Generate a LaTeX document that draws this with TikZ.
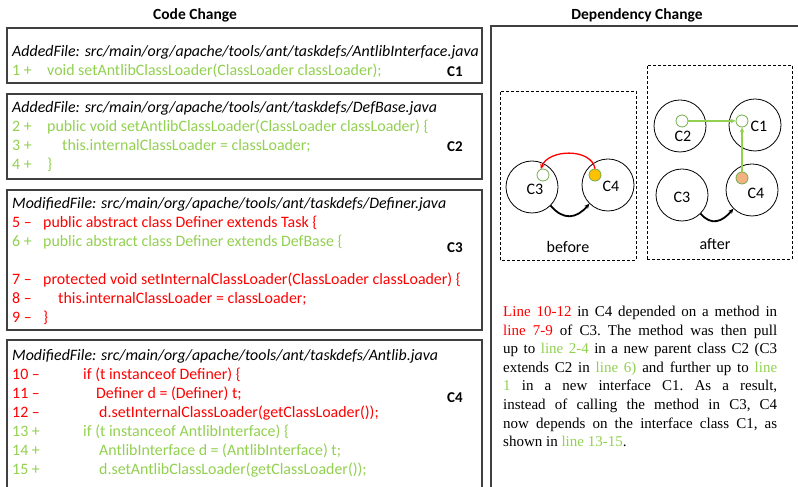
\documentclass[tikz,border=0pt]{standalone}
\usepackage{fontspec}
\setmainfont{Carlito}
\newfontfamily\paperfont{Liberation Serif}
\usetikzlibrary{arrows.meta, positioning}
\definecolor{addgreen}{HTML}{92D050}
\definecolor{ringgreen}{HTML}{70AD47}
\definecolor{delred}{HTML}{FF0000}
\definecolor{usegold}{HTML}{FFC000}
\definecolor{usesalmon}{HTML}{F4B183}
\definecolor{framegray}{HTML}{404040}

\begin{document}
\begin{tikzpicture}[
        x=1pt, y=1pt, >={Stealth[length=5pt,width=4.5pt]},
        heading/.style={font=\bfseries\fontsize{15.5}{18}\selectfont},
        filebox/.style={draw=framegray, line width=1.2pt},
        filename/.style={anchor=base west, inner sep=0pt, font=\itshape\fontsize{15.9}{19}\selectfont},
        codeline/.style={anchor=base west, inner sep=0pt, font=\fontsize{15.9}{19}\selectfont},
        addline/.style={codeline, text=addgreen},
        delline/.style={codeline, text=delred},
        boxtag/.style={font=\bfseries\fontsize{15}{18}\selectfont},
        panel/.style={draw, densely dashed, line width=0.6pt},
        cls/.style={circle, draw, line width=0.8pt, minimum size=52pt, inner sep=0pt},
        usedot/.style={circle, draw=ringgreen, line width=0.8pt, minimum size=12pt, inner sep=0pt},
        clsname/.style={font=\fontsize{16}{18}\selectfont, inner sep=0pt},
        calls/.style={->, line width=1.8pt},
        ]
        \useasboundingbox (0,0) rectangle (798,487);
        \clip (0,0) rectangle (798,487);

        % column titles
        \node[heading] (codehead) at (195,472) {Code Change};
        \node[heading] (dephead)  at (637,472) {Dependency Change};

        % file boxes, left column
        \draw[filebox] (7,404) rectangle (482,459);
        \draw[filebox] (7,308) rectangle (482,393);
        \draw[filebox] (7,157) rectangle (482,297);
        \draw[filebox] (7,-5) rectangle (482,147);
        % right column frame
        \draw[filebox] (491,-5) rectangle (805,461);

        % C1
        \node[filename] (f1) at (12,430) {AddedFile: src/main/org/apache/tools/ant/taskdefs/AntlibInterface.java};
        \node[addline] (l1) at (12,411) {\makebox[35pt][l]{1 +}void setAntlibClassLoader(ClassLoader classLoader);};
        \node[boxtag] (t1) at (455,415) {C1};

        % C2
        \node[filename] (f2) at (12,374) {AddedFile: src/main/org/apache/tools/ant/taskdefs/DefBase.java};
        \node[addline] (l2) at (12,355) {\makebox[35pt][l]{2 +}public void setAntlibClassLoader(ClassLoader classLoader) \{};
        \node[addline] (l3) at (12,336) {\makebox[50pt][l]{3 +}this.internalClassLoader = classLoader;};
        \node[addline] (l4) at (12,317) {\makebox[35pt][l]{4 +}\}};
        \node[boxtag] (t2) at (455,340) {C2};

        % C3
        \node[filename] (f3) at (12,278) {ModifiedFile: src/main/org/apache/tools/ant/taskdefs/Definer.java};
        \node[delline] (l5) at (12,259) {\makebox[31pt][l]{5 \textendash}public abstract class Definer extends Task \{};
        \node[addline] (l6) at (12,240) {\makebox[31pt][l]{6 +}public abstract class Definer extends DefBase \{};
        \node[delline] (l7) at (12,202) {\makebox[31pt][l]{7 \textendash}protected void setInternalClassLoader(ClassLoader classLoader) \{};
        \node[delline] (l8) at (12,183) {\makebox[46pt][l]{8 \textendash}this.internalClassLoader = classLoader;};
        \node[delline] (l9) at (12,164) {\makebox[31pt][l]{9 \textendash}\}};
        \node[boxtag] (t3) at (455,239) {C3};

        % C4
        \node[filename] (f4) at (12,126) {ModifiedFile: src/main/org/apache/tools/ant/taskdefs/Antlib.java};
        \node[delline] (l10) at (12,107) {\makebox[71pt][l]{10 \textendash}if (t instanceof Definer) \{};
        \node[delline] (l11) at (12,88) {\makebox[84pt][l]{11 \textendash}Definer d = (Definer) t;};
        \node[delline] (l12) at (12,69) {\makebox[87pt][l]{12 \textendash}d.setInternalClassLoader(getClassLoader());};
        \node[addline] (l13) at (12,50) {\makebox[71pt][l]{13 +}if (t instanceof AntlibInterface) \{};
        \node[addline] (l14) at (12,31) {\makebox[87pt][l]{14 +}AntlibInterface d = (AntlibInterface) t;};
        \node[addline] (l15) at (12,12) {\makebox[87pt][l]{15 +}d.setAntlibClassLoader(getClassLoader());};
        \node[boxtag] (t4) at (455,89) {C4};

        % before
        \draw[panel] (500,227) rectangle (636,396);
        \node[cls] (b3) at (532,300) {};
        \node[cls] (b4) at (608,302) {};
        \node[usedot] (b3in) at (543,312) {};
        \node[usedot, fill=usegold] (b4out) at (595,312) {};
        \node[clsname] (b3name) at (535,298) {C3};
        \node[clsname] (b4name) at (611,301) {C4};
        \node[clsname] (beforename) at (568,240) {before};
        \draw[->, delred, line width=1.3pt] (b4out.north) to[out=100, in=70] (b3in.110);
        \draw[calls] (b3.-45) to[out=-50, in=-130, looseness=1.3] (b4.-135);

        % after
        \draw[panel] (647,228) rectangle (792,422);
        \node[cls] (a2) at (680,361) {};
        \node[cls] (a1) at (755,362) {};
        \node[cls] (a3) at (682,292) {};
        \node[cls] (a4) at (752,297) {};
        \node[usedot] (a2in) at (682,366) {};
        \node[usedot] (a1in) at (742,366) {};
        \node[usedot, fill=usesalmon] (a4out) at (742,309) {};
        \node[clsname] (a2name) at (683,351) {C2};
        \node[clsname] (a1name) at (759,361) {C1};
        \node[clsname] (a3name) at (682,290) {C3};
        \node[clsname] (a4name) at (756,294) {C4};
        \node[clsname] (aftername) at (715,243) {after};
        \draw[->, addgreen, line width=1.3pt] (a2in.east) -- (a1in.west);
        \draw[->, addgreen, line width=1.3pt] (a4out.north) -- (a1in.south);
        \draw[calls] (a3.-45) to[out=-50, in=-130, looseness=1.3] (a4.-135);

        % explanation
        \node[anchor=north west, text width=274pt, align=justify, inner sep=0pt,
              font=\paperfont\fontsize{15}{18.57}\selectfont\frenchspacing] (story) at (503,181)
        {\textcolor{delred}{Line 10-12} in C4 depended on a method in\linebreak
         \textcolor{delred}{line 7-9} of C3. The method was then pull\linebreak
         up to \textcolor{addgreen}{line 2-4} in a new parent class C2 (C3\linebreak
         extends C2 in \textcolor{addgreen}{line 6)} and further up to \textcolor{addgreen}{line}\linebreak
         \textcolor{addgreen}{1} in a new interface C1. As a result,\linebreak
         instead of calling the method in C3, C4\linebreak
         now depends on the interface class C1, as\linebreak
         shown in \textcolor{addgreen}{line 13-15}.};
      \end{tikzpicture}
\end{document}
